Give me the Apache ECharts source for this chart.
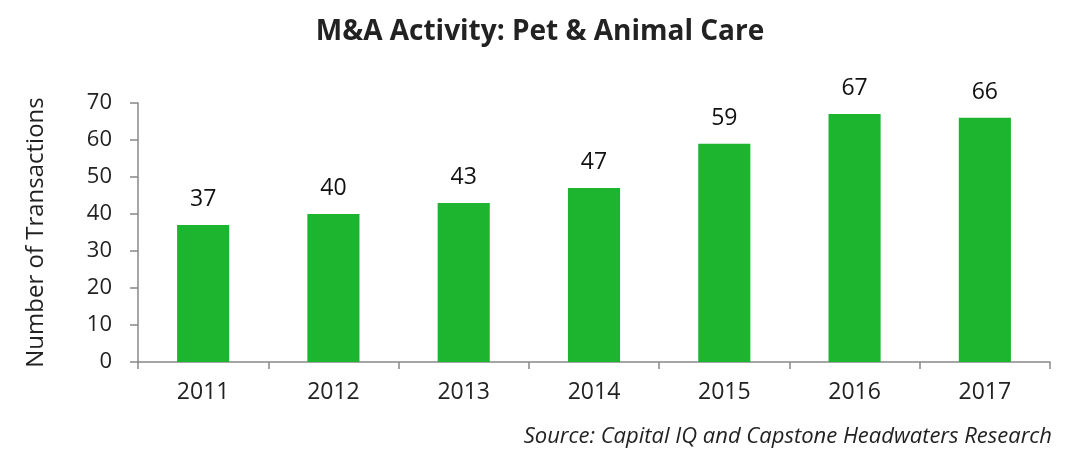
<!DOCTYPE html>
<html><head><meta charset="utf-8">
<script src="https://cdn.jsdelivr.net/npm/echarts@6/dist/echarts.min.js"></script>
<style>html,body{margin:0;padding:0;background:#fff}#c{width:1080px;height:470px}</style>
</head><body><div id="c"></div>
<script>
const categories = ['2011','2012','2013','2014','2015','2016','2017'];
const transactions = [37, 40, 43, 47, 59, 67, 66];
const titleText = 'M&A Activity: Pet & Animal Care';
const yAxisName = 'Number of Transactions';
const sourceText = 'Source: Capital IQ and Capstone Headwaters Research';

const chart = echarts.init(document.getElementById('c'));
const font = '"Open Sans", "Noto Sans", sans-serif';
chart.setOption({
  animation: false,
  backgroundColor: '#fff',
  title: {
    text: titleText, left: 'center', top: 13,
    textStyle: { fontFamily: font, fontSize: 28, fontWeight: 'bold', color: '#222' }
  },
  graphic: [{
    type: 'text', right: 28, top: 426,
    style: { text: sourceText, font: 'italic 22px ' + font, fill: '#222' }
  }],
  grid: { left: 138, right: 30, top: 103, bottom: 108, containLabel: false },
  xAxis: {
    type: 'category', data: categories,
    axisLine: { lineStyle: { color: '#888', width: 1.5 } },
    axisTick: { show: true, length: 7, lineStyle: { color: '#888', width: 1.5 } },
    axisLabel: { fontFamily: font, fontSize: 23, color: '#222', margin: 19 }
  },
  yAxis: {
    type: 'value', min: 0, max: 70, interval: 10,
    name: yAxisName, nameLocation: 'middle', nameGap: 90,
    nameTextStyle: { fontFamily: font, fontSize: 24, color: '#222' },
    axisLine: { show: true, lineStyle: { color: '#888', width: 1.5 } },
    axisTick: { show: true, length: 8, lineStyle: { color: '#888', width: 1.5 } },
    axisLabel: { fontFamily: font, fontSize: 22, color: '#222', margin: 26 },
    splitLine: { show: false }
  },
  series: [{
    type: 'bar', data: transactions, barWidth: '40%',
    itemStyle: { color: '#1db52f' },
    label: { show: true, position: 'top', distance: 14, fontFamily: font, fontSize: 23, color: '#111' }
  }]
});
</script></body></html>
